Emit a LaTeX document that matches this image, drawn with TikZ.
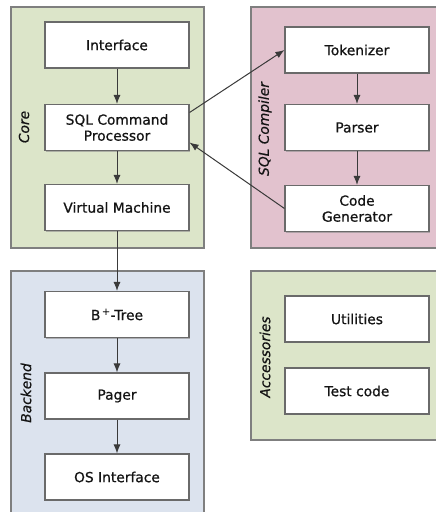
\documentclass[tikz,border=0pt]{standalone}
\usepackage{fontspec}
\setmainfont{DejaVu Sans}
\newfontfamily\boxfont[FakeBold=0.8]{DejaVu Sans}
\newfontfamily\labfont[FakeBold=0.5]{DejaVu Sans}
\usetikzlibrary{arrows.meta,shadows}
\definecolor{coregreen}{HTML}{DCE5C9}
\definecolor{compink}{HTML}{E2C2CE}
\definecolor{backblue}{HTML}{DCE3EE}
\definecolor{grpline}{HTML}{7F7F7F}
\definecolor{boxline}{HTML}{6A6A6A}
\definecolor{arrline}{HTML}{3A3A3A}
\tikzset{
  group/.style={draw=grpline, line width=1.2pt},
  module/.style={draw=boxline, line width=1.1pt, fill=white,
    minimum width=144pt, minimum height=46pt, inner sep=2pt,
    align=center, text=black!92,
    font=\boxfont\fontsize{13.8}{16}\selectfont,
    drop shadow={shadow xshift=1.2pt, shadow yshift=-1.2pt, fill=black!45, opacity=0.6}},
  grplabel/.style={rotate=90, font=\labfont\fontsize{13.8}{16}\selectfont\itshape, text=black!92},
  flow/.style={draw=arrline, line width=1pt, -{Latex[length=9pt,width=7pt]}}
}
\begin{document}
\begin{tikzpicture}[x=1pt,y=-1pt]
  \clip (0,0) rectangle (436,512);
  \fill[white] (0,0) rectangle (436,512);

  % subsystem frames
  \draw[group, fill=coregreen] (11,7) rectangle (204,248);
  \draw[group, fill=compink] (251,7) rectangle (446,248);
  \draw[group, fill=backblue] (11,271) rectangle (204,530);
  \draw[group, fill=coregreen] (251,271) rectangle (446,440);

  \node[grplabel] (lcore) at (24,127) {Core};
  \node[grplabel] (lcomp) at (265,129) {SQL Compiler};
  \node[grplabel] (lback) at (26,393) {Backend};
  \node[grplabel] (lacc) at (265,357) {Accessories};

  % core
  \node[module] (iface) at (117,45) {Interface};
  \node[module] (sql) at (117,127.5) {SQL Command\\Processor};
  \node[module] (vm) at (117,207.5) {Virtual Machine};

  % compiler
  \node[module] (tok) at (357,50) {Tokenizer};
  \node[module] (parse) at (357,127.5) {Parser};
  \node[module] (gen) at (357,208.5) {Code\\Generator};

  % backend
  \node[module] (btree) at (117,314.5) {B\textsuperscript{\,+}-Tree};
  \node[module] (pager) at (117,396) {Pager};
  \node[module] (os) at (117,477) {OS Interface};

  % accessories
  \node[module] (util) at (357,319) {Utilities};
  \node[module] (test) at (357,391) {Test code};

  % connectors
  \draw[flow] (iface) -- (sql);
  \draw[flow] (sql) -- (vm);
  \draw[flow] (vm) -- (btree);
  \draw[flow] (btree) -- (pager);
  \draw[flow] (pager) -- (os);
  \draw[flow] (tok) -- (parse);
  \draw[flow] (parse) -- (gen);
  \draw[flow] ([yshift=15pt]sql.east) -- (tok.west);
  \draw[flow] (gen.west) -- ([yshift=-15pt]sql.east);
\end{tikzpicture}
\end{document}
